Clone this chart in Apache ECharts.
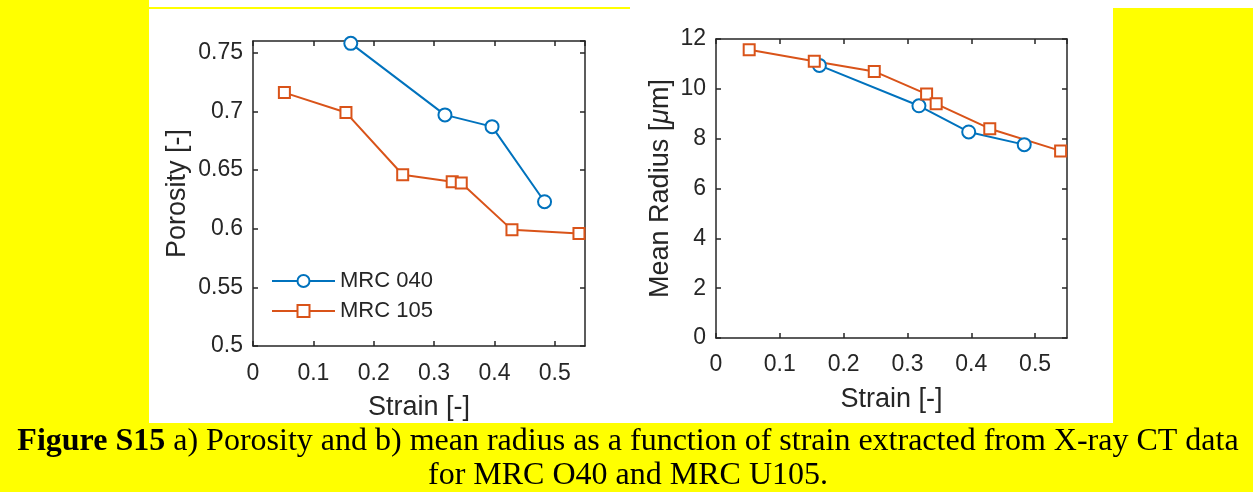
<!DOCTYPE html>
<html>
<head>
<meta charset="utf-8">
<script src="https://cdn.jsdelivr.net/npm/echarts@6/dist/echarts.min.js"></script>
<style>
html,body{margin:0;padding:0;background:#ffff00;}
#c{width:1253px;height:492px;}
</style>
</head>
<body>
<div id="c"></div>
<script>
// ---- data ----
const seriesNames = ['MRC 040', 'MRC 105'];
const strain040 = [0.162, 0.318, 0.396, 0.483];
const porosity040 = [0.758, 0.697, 0.687, 0.623];
const radius040 = [10.94, 9.32, 8.27, 7.76];
const strain105 = [0.052, 0.154, 0.248, 0.330, 0.345, 0.429, 0.540];
const porosity105 = [0.716, 0.699, 0.646, 0.640, 0.639, 0.599, 0.596];
const radius105 = [11.57, 11.11, 10.70, 9.79, 9.40, 8.40, 7.51];
const xAxisTitle = 'Strain [-]';
const yTitleLeft = 'Porosity [-]';
const yTitleRight = 'Mean Radius [{i|μ}m]';
const captionBold = 'Figure S15';
const captionLine1 = ' a) Porosity and b) mean radius as a function of strain extracted from X-ray CT data';
const captionLine2 = 'for MRC O40 and MRC U105.';

const pair = (xs, ys) => xs.map((x, i) => [x, ys[i]]);

const FONT = "'Liberation Sans', Arial, sans-serif";
const SERIF = "'Liberation Serif', 'Times New Roman', serif";
const TXT = '#262626';
const AX = '#262626';
const BLUE = '#0072BD';
const ORANGE = '#D95319';

function xAx(grid, show, margin, nameGap) {
  return {
    type: 'value', gridIndex: grid, min: 0, max: 0.55, interval: 0.1,
    position: show ? 'bottom' : 'top',
    name: show ? xAxisTitle : '', nameLocation: 'middle', nameGap: nameGap || 0,
    nameMoveOverlap: false,
    nameTextStyle: {fontFamily: FONT, fontSize: 27, color: TXT},
    axisLine: {show: true, onZero: false, lineStyle: {color: AX, width: 1.5}},
    axisTick: {show: true, inside: true, length: 5, lineStyle: {color: AX, width: 1.5}},
    axisLabel: {show: show, margin: margin || 0, fontFamily: FONT, fontSize: 23, color: TXT,
      showMaxLabel: false, formatter: v => String(+v.toFixed(2))},
    splitLine: {show: false}
  };
}
function yAx(grid, show, min, max, interval, name, nameGap, showMax) {
  return {
    type: 'value', gridIndex: grid, min: min, max: max, interval: interval,
    position: show ? 'left' : 'right',
    name: show ? name : '', nameLocation: 'middle', nameGap: nameGap,
    nameMoveOverlap: false,
    nameTextStyle: {fontFamily: FONT, fontSize: 27, color: TXT,
      rich: {i: {fontFamily: FONT, fontSize: 27, color: TXT, fontStyle: 'italic'}}},
    axisLine: {show: true, onZero: false, lineStyle: {color: AX, width: 1.5}},
    axisTick: {show: true, inside: true, length: 5, lineStyle: {color: AX, width: 1.5}},
    axisLabel: {show: show, margin: 10, fontFamily: FONT, fontSize: 23, color: TXT,
      showMaxLabel: showMax, formatter: v => String(+v.toFixed(2))},
    splitLine: {show: false}
  };
}

function lineSeries(name, xi, yi, data, color, symbol, size) {
  return {
    type: 'line', name: name, xAxisIndex: xi, yAxisIndex: yi, data: data,
    symbol: symbol, symbolSize: size, showAllSymbol: true,
    lineStyle: {color: color, width: 2},
    itemStyle: {color: color, borderColor: color, borderWidth: 2},
    emphasis: {disabled: true}, animation: false
  };
}

const chart = echarts.init(document.getElementById('c'));
chart.setOption({
  backgroundColor: 'transparent',
  animation: false,
  grid: [
    {left: 253, top: 41, width: 332, height: 305, containLabel: false},
    {left: 716, top: 39, width: 351, height: 299, containLabel: false}
  ],
  xAxis: [xAx(0, true, 16, 48), xAx(0, false), xAx(1, true, 15, 48), xAx(1, false)],
  yAxis: [
    yAx(0, true, 0.5, 0.76, 0.05, yTitleLeft, 62, false),
    yAx(0, false, 0.5, 0.76, 0.05, '', 0, false),
    yAx(1, true, 0, 12, 2, yTitleRight, 42, true),
    yAx(1, false, 0, 12, 2, '', 0, true)
  ],
  legend: {
    data: seriesNames, orient: 'vertical', left: 266, top: 265,
    itemWidth: 63, itemHeight: 15, itemGap: 8,
    textStyle: {fontFamily: FONT, fontSize: 22, color: TXT},
    selectedMode: false
  },
  graphic: [
    {type: 'rect', z: -100, shape: {x: 149, y: 0, width: 964, height: 423}, style: {fill: '#ffffff'}},
    {type: 'rect', z: -100, shape: {x: 1113, y: 0, width: 140, height: 8}, style: {fill: '#ffffff'}},
    {type: 'rect', z: -99, shape: {x: 149, y: 7, width: 481, height: 2}, style: {fill: '#ffff00'}},
    {type: 'text', x: 628, y: 442, style: {
      text: '{b|' + captionBold + '}{r|' + captionLine1 + '}',
      align: 'center', verticalAlign: 'middle',
      rich: {
        b: {fontFamily: SERIF, fontSize: 32, fontWeight: 'bold', fill: '#000'},
        r: {fontFamily: SERIF, fontSize: 32, fill: '#000'}
      }
    }},
    {type: 'text', x: 628, y: 476, style: {
      text: captionLine2, align: 'center', verticalAlign: 'middle',
      fontFamily: SERIF, fontSize: 32, fill: '#000'
    }}
  ],
  series: [
    lineSeries(seriesNames[0], 0, 0, pair(strain040, porosity040), BLUE, 'emptyCircle', 13),
    lineSeries(seriesNames[1], 0, 0, pair(strain105, porosity105), ORANGE, 'emptyRect', 11),
    lineSeries(seriesNames[0], 2, 2, pair(strain040, radius040), BLUE, 'emptyCircle', 13),
    lineSeries(seriesNames[1], 2, 2, pair(strain105, radius105), ORANGE, 'emptyRect', 11)
  ]
});
</script>
</body>
</html>
